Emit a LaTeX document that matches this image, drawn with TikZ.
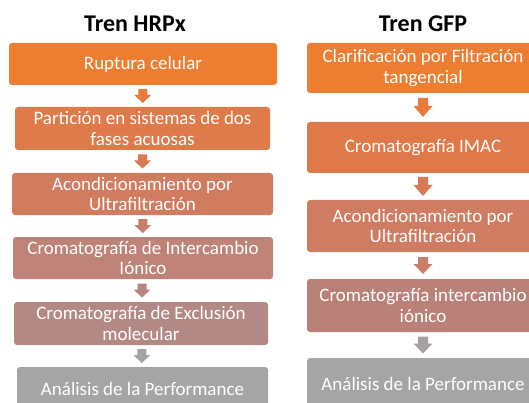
\documentclass[tikz,border=0pt]{standalone}
\usepackage{fontspec}
\setmainfont{Carlito}
\usetikzlibrary{calc}
\definecolor{c1}{HTML}{ED7D31}
\definecolor{c2}{HTML}{DF7A4A}
\definecolor{c3}{HTML}{D17B5F}
\definecolor{c4}{HTML}{C08377}
\definecolor{c5}{HTML}{B38986}
\definecolor{c6}{HTML}{A5A5A5}
\definecolor{r2}{HTML}{E0794A}
\definecolor{r3}{HTML}{CF7C63}
\definecolor{r4}{HTML}{BA8178}
\definecolor{a1}{HTML}{E87B3C}
\definecolor{a2}{HTML}{D97A54}
\definecolor{a3}{HTML}{C97E6A}
\definecolor{a4}{HTML}{BA857F}
\definecolor{a5}{HTML}{A6A2A2}
\tikzset{
  box/.style={rectangle, rounded corners=3pt, draw=none, text=white, align=center,
    font=\fontsize{19}{20.5}\selectfont, inner sep=0pt},
  title/.style={font=\fontsize{24}{28}\selectfont\bfseries, text=black, inner sep=0pt, anchor=base}
}
% block arrow: #1 name, #2 colour, #3 length, #4 shaft length, #5 half shaft width, #6 half head width
\newcommand\blockarr[6]{%
  \fill[#2, shift={(#1)}] (-#5,{#3/2}) -- (#5,{#3/2}) -- (#5,{#3/2-#4}) -- (#6,{#3/2-#4})
    -- (0,{-#3/2}) -- (-#6,{#3/2-#4}) -- (-#5,{#3/2-#4}) -- cycle;}
\begin{document}
\begin{tikzpicture}[x=1pt,y=1pt]
\useasboundingbox (0,-403) rectangle (529,0);
\clip (0,-403) rectangle (529,0);
% titles
\node[title] (t1) at (135,-32) {Tren HRPx};
\node[title] (t2) at (423,-32) {Tren GFP};
% left column
\node[box, fill=c1, minimum width=268pt, minimum height=42pt] (l1) at (143,-64) {Ruptura celular};
\node[box, fill=c2, minimum width=255pt, minimum height=43pt] (l2) at (142.5,-128.5) {Partición en sistemas de dos\\fases acuosas};
\node[box, fill=c3, minimum width=261pt, minimum height=42pt] (l3) at (142.5,-194) {Acondicionamiento por\\Ultrafiltración};
\node[box, fill=c4, minimum width=260pt, minimum height=42pt] (l4) at (143,-258) {Cromatografía de Intercambio\\Iónico};
\node[box, fill=c5, minimum width=254pt, minimum height=43pt] (l5) at (141,-323.5) {Cromatografía de Exclusión\\molecular};
\node[box, fill=c6, minimum width=251pt, minimum height=43pt] (l6) at (142.5,-388.5) {Análisis de la Performance};
% left arrows
\coordinate (la1) at ($(l1.south)!0.5!(l2.north)$);
\coordinate (la2) at ($(l2.south)!0.5!(l3.north)$);
\coordinate (la3) at ($(l3.south)!0.5!(l4.north)$);
\coordinate (la4) at ($(l4.south)!0.5!(l5.north)$);
\coordinate (la5) at ($(l5.south)!0.5!(l6.north)$);
\blockarr{la1}{a1}{14}{6}{4.5}{8.5}
\blockarr{la2}{a2}{14}{6}{4.5}{8.5}
\blockarr{la3}{a3}{14}{6}{4.5}{8.5}
\blockarr{la4}{a4}{14}{6}{4.5}{8.5}
\blockarr{la5}{a5}{14}{6}{4.5}{8.5}
% right column
\node[box, fill=c1, minimum width=232pt, minimum height=50pt] (r1) at (423,-68) {Clarificación por Filtración\\tangencial};
\node[box, fill=r2, minimum width=232pt, minimum height=51pt] (r2) at (423,-147.5) {Cromatografía IMAC};
\node[box, fill=r3, minimum width=232pt, minimum height=52pt] (r3) at (423,-226) {Acondicionamiento por\\Ultrafiltración};
\node[box, fill=r4, minimum width=232pt, minimum height=53pt] (r4) at (423,-305.5) {Cromatografía intercambio\\iónico};
\node[box, fill=c6, minimum width=232pt, minimum height=52pt] (r5) at (423,-384) {Análisis de la Performance};
% right arrows
\coordinate (ra1) at ($(r1.south)!0.5!(r2.north)$);
\coordinate (ra2) at ($(r2.south)!0.5!(r3.north)$);
\coordinate (ra3) at ($(r3.south)!0.5!(r4.north)$);
\coordinate (ra4) at ($(r4.south)!0.5!(r5.north)$);
\blockarr{ra1}{a1}{19}{8}{5}{9.5}
\blockarr{ra2}{a2}{19}{8}{5}{9.5}
\blockarr{ra3}{a3}{17}{7}{5}{9.5}
\blockarr{ra4}{a5}{17}{7}{5}{9.5}
\end{tikzpicture}
\end{document}
